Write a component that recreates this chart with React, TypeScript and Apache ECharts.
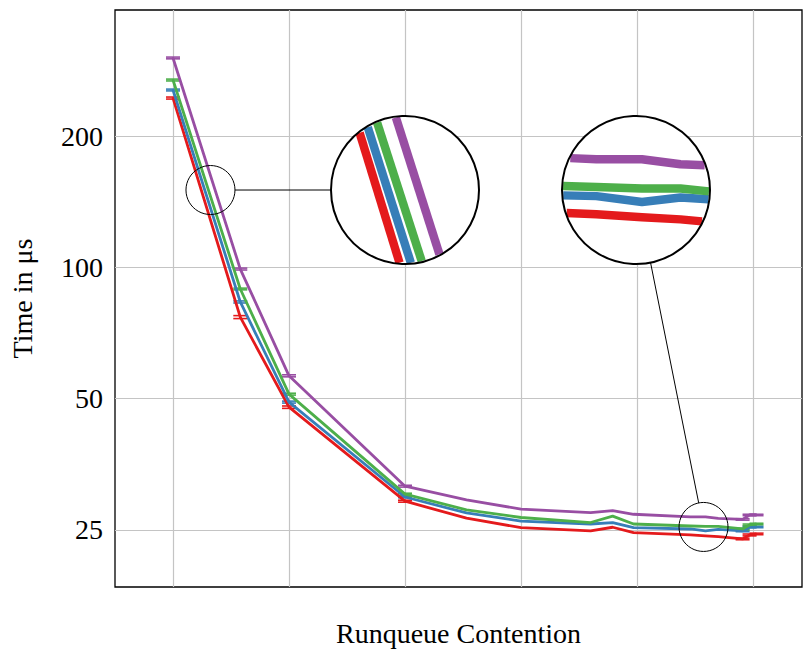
import React, { useEffect, useRef } from 'react';
import * as echarts from 'echarts';

// x positions (gridlines at 0,10,...,50; no tick labels shown)
const xValues = [0, 5.8, 10, 20, 25.3, 30, 36, 37.9, 39.7, 44.6, 45.9, 47, 49.1, 49.7, 50.3];
const xGridTicks = [0, 10, 20, 30, 40, 50];
const yTickLabels = [25, 50, 100, 200];

const seriesNames = ['Series A', 'Series B', 'Series C', 'Series D'];
const redValues = [244.4, 76.9, 47.8, 29.1, 26.6, 25.3, 24.87, 25.36, 24.65, 24.35, 24.22, 24.13, 23.84, 24.35, 24.48];
const blueValues = [255, 83.3, 49.1, 29.75, 27.35, 26.2, 25.8, 26.0, 25.3, 25.13, 24.87, 25.07, 24.87, 25.4, 25.4];
const greenValues = [268.8, 89.2, 51.2, 30.2, 27.8, 26.7, 26.0, 26.9, 25.8, 25.53, 25.47, 25.47, 25.13, 25.67, 25.8];
const purpleValues = [302, 99.1, 56.4, 31.5, 29.3, 27.9, 27.4, 27.7, 27.16, 26.8, 26.8, 26.57, 26.43, 27.06, 27.06];

// error bar half-widths (0 = no visible bar)
const redErrors = [1.3, 0.6, 0.3, 0.15, 0, 0, 0, 0, 0, 0, 0, 0, 0.1, 0.12, 0.1];
const blueErrors = [1.2, 0.45, 0.25, 0.12, 0, 0, 0, 0, 0, 0, 0, 0, 0.1, 0.1, 0.1];
const greenErrors = [1.3, 0.4, 0.25, 0.15, 0, 0, 0, 0, 0, 0, 0, 0, 0.1, 0.12, 0.1];
const purpleErrors = [1.4, 0.5, 0.3, 0.15, 0, 0, 0, 0, 0, 0, 0, 0, 0.1, 0.1, 0.1];

// spy (magnifier) source centres, in data coordinates
const spyLeftSource = [3.23, 150.4];
const spyRightSource = [45.73, 25.4];

const colors = ['#e41a1c', '#377eb8', '#4daf4a', '#984ea3'];
const FONT = "'Liberation Serif', 'Times New Roman', serif";

function clipToCircle(pts: number[][], c: number[], r: number): number[][][] {
  const runs: number[][][] = [];
  let cur: number[][] | null = null;
  let lastEndedAtOne = false;
  for (let k = 0; k < pts.length - 1; k++) {
    const A = pts[k], B = pts[k + 1];
    const dx = B[0] - A[0], dy = B[1] - A[1];
    const fx = A[0] - c[0], fy = A[1] - c[1];
    const a = dx * dx + dy * dy;
    const b = 2 * (fx * dx + fy * dy);
    const cc = fx * fx + fy * fy - r * r;
    const disc = b * b - 4 * a * cc;
    if (a === 0 || disc <= 0) { cur = null; lastEndedAtOne = false; continue; }
    const sq = Math.sqrt(disc);
    const t1 = Math.max(0, (-b - sq) / (2 * a));
    const t2 = Math.min(1, (-b + sq) / (2 * a));
    if (t1 >= t2) { cur = null; lastEndedAtOne = false; continue; }
    const P = [A[0] + t1 * dx, A[1] + t1 * dy];
    const Q = [A[0] + t2 * dx, A[1] + t2 * dy];
    if (cur && lastEndedAtOne && t1 === 0) {
      cur.push(Q);
    } else {
      cur = [P, Q];
      runs.push(cur);
    }
    lastEndedAtOne = t2 === 1;
    if (!lastEndedAtOne) cur = null;
  }
  return runs;
}

export default function App() {
  const ref = useRef<HTMLDivElement>(null);
  useEffect(() => {
    const chart = echarts.init(ref.current!, null, { renderer: 'svg' });
    const valueSets = [redValues, blueValues, greenValues, purpleValues];
    const errorSets = [redErrors, blueErrors, greenErrors, purpleErrors];
    const LW = 2.8;

    const series: any[] = [];
    valueSets.forEach((vals, i) => {
      series.push({
        type: 'line',
        name: seriesNames[i],
        data: xValues.map((x, j) => [x, vals[j]]),
        showSymbol: false,
        symbol: 'none',
        lineStyle: { color: colors[i], width: LW, cap: 'butt', join: 'round' },
        itemStyle: { color: colors[i] },
        z: 3,
      });
      series.push({
        type: 'custom',
        name: seriesNames[i] + ' error',
        data: xValues.map((x, j) => [x, vals[j], errorSets[i][j]]),
        encode: { x: 0, y: 1 },
        z: 3,
        renderItem: (params: any, api: any) => {
          const x = api.value(0), y = api.value(1), e = api.value(2);
          if (!e) return null;
          const lo = api.coord([x, y - e]);
          const hi = api.coord([x, y + e]);
          const w = 7;
          const st = { stroke: colors[i], lineWidth: 1.6 };
          return {
            type: 'group',
            children: [
              { type: 'line', shape: { x1: lo[0], y1: lo[1], x2: hi[0], y2: hi[1] }, style: st },
              { type: 'line', shape: { x1: lo[0] - w, y1: lo[1], x2: lo[0] + w, y2: lo[1] }, style: st },
              { type: 'line', shape: { x1: hi[0] - w, y1: hi[1], x2: hi[0] + w, y2: hi[1] }, style: st },
            ],
          };
        },
      });
    });

    chart.setOption({
      animation: false,
      backgroundColor: '#fff',
      grid: {
        left: 115, top: 10, right: 1, bottom: 63,
        containLabel: false,
        outerBoundsMode: 'none',
        show: true,
        borderColor: '#000',
        borderWidth: 1.3,
        backgroundColor: 'transparent',
      },
      xAxis: {
        type: 'value',
        min: -5,
        max: 54.22,
        name: 'Runqueue Contention',
        nameLocation: 'middle',
        nameGap: 46,
        nameTextStyle: { fontFamily: FONT, fontSize: 28, color: '#000', verticalAlign: 'middle' },
        axisLine: { show: false },
        axisTick: { show: false, customValues: xGridTicks },
        axisLabel: { show: false, customValues: xGridTicks },
        splitLine: { show: true, lineStyle: { color: '#c4c4c4', width: 1.2 } },
      },
      yAxis: {
        type: 'log',
        logBase: 2,
        min: 18.5,
        max: 389,
        name: 'Time in μs',
        nameLocation: 'middle',
        nameGap: 93,
        nameTextStyle: { fontFamily: FONT, fontSize: 28, color: '#000', verticalAlign: 'middle' },
        axisLine: { show: false },
        axisTick: { show: false, customValues: yTickLabels },
        axisLabel: {
          customValues: yTickLabels,
          fontFamily: FONT,
          fontSize: 28,
          color: '#000',
          margin: 12,
          formatter: (v: number) => String(Math.round(v)),
        },
        splitLine: { show: true, lineStyle: { color: '#c4c4c4', width: 1.2 } },
      },
      series,
    });

    // Magnifier ("spy") circles, built from the data through the chart's own scales
    const spies = [
      { src: spyLeftSource, dst: [405, 190] },
      { src: spyRightSource, dst: [636, 190] },
    ];
    const rS = 24.5, rB = 74, mag = rB / rS;
    const graphics: any[] = [];
    spies.forEach((sp) => {
      const c = chart.convertToPixel({ gridIndex: 0 }, sp.src) as number[];
      const [bx, by] = sp.dst;
      const dx = c[0] - bx, dy = c[1] - by;
      const len = Math.hypot(dx, dy);
      const ux = dx / len, uy = dy / len;
      graphics.push({
        type: 'line', z: 100,
        shape: { x1: bx + ux * rB, y1: by + uy * rB, x2: c[0] - ux * rS, y2: c[1] - uy * rS },
        style: { stroke: '#000', lineWidth: 1 },
      });
      graphics.push({
        type: 'circle', z: 100,
        shape: { cx: c[0], cy: c[1], r: rS },
        style: { fill: 'none', stroke: '#000', lineWidth: 1 },
      });
      graphics.push({
        type: 'circle', z: 100,
        shape: { cx: bx, cy: by, r: rB },
        style: { fill: '#fff', stroke: 'none' },
      });
      valueSets.forEach((vals, i) => {
        const pts = xValues.map((x, j) => {
          const p = chart.convertToPixel({ gridIndex: 0 }, [x, vals[j]]) as number[];
          return [bx + mag * (p[0] - c[0]), by + mag * (p[1] - c[1])];
        });
        clipToCircle(pts, [bx, by], rB - 1).forEach((run) => {
          graphics.push({
            type: 'polyline', z: 101,
            shape: { points: run },
            style: { stroke: colors[i], lineWidth: LW * mag, fill: 'none', lineCap: 'butt', lineJoin: 'round' },
          });
        });
      });
      graphics.push({
        type: 'circle', z: 102,
        shape: { cx: bx, cy: by, r: rB },
        style: { fill: 'none', stroke: '#000', lineWidth: 2 },
      });
    });
    chart.setOption({ graphic: { elements: graphics } });

    return () => chart.dispose();
  }, []);

  return (
    <div
      ref={ref}
      style={{ position: 'absolute', left: 0, top: 0, width: 803, height: 650, background: '#fff' }}
    />
  );
}
